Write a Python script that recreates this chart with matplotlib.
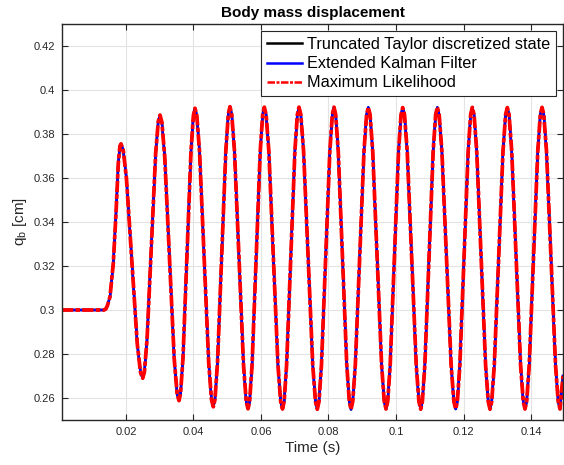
import matplotlib
matplotlib.use("Agg")
import matplotlib.pyplot as plt
from matplotlib.ticker import FormatStrFormatter

# time [s] and body mass displacement [cm]
time_s = [
    0.00104, 0.0080, 0.0135, 0.0140, 0.0145, 0.01526, 0.01624, 0.01704,
    0.01772, 0.0182, 0.01852,
    0.01916, 0.02013, 0.02174, 0.02334, 0.02431, 0.02495,
    0.02546, 0.02623, 0.02751, 0.02879, 0.02956, 0.03007,
    0.03063, 0.03148, 0.03289, 0.03429, 0.03514, 0.03570,
    0.03617, 0.03689, 0.03807, 0.03926, 0.03997, 0.04044,
    0.04098, 0.04180, 0.04316, 0.04451, 0.04533, 0.04587,
    0.04636, 0.04711, 0.04834, 0.04958, 0.05032, 0.05081,
    0.05134, 0.05215, 0.05348, 0.05482, 0.05562, 0.05615,
    0.05663, 0.05736, 0.05857, 0.05977, 0.06050, 0.06098,
    0.06152, 0.06233, 0.06368, 0.06502, 0.06583, 0.06637,
    0.06686, 0.06759, 0.06882, 0.07004, 0.07077, 0.07126,
    0.07180, 0.07262, 0.07397, 0.07533, 0.07614, 0.07668,
    0.07718, 0.07792, 0.07916, 0.08039, 0.08114, 0.08163,
    0.08213, 0.08289, 0.08415, 0.08541, 0.08617, 0.08667,
    0.08718, 0.08795, 0.08923, 0.09051, 0.09128, 0.09179,
    0.09232, 0.09310, 0.09442, 0.09573, 0.09652, 0.09704,
    0.09754, 0.09828, 0.09952, 0.10075, 0.10150, 0.10199,
    0.10252, 0.10332, 0.10466, 0.10599, 0.10679, 0.10732,
    0.10781, 0.10855, 0.10978, 0.11101, 0.11175, 0.11224,
    0.11279, 0.11360, 0.11497, 0.11633, 0.11714, 0.11769,
    0.11818, 0.11892, 0.12015, 0.12138, 0.12212, 0.12261,
    0.12313, 0.12392, 0.12523, 0.12654, 0.12733, 0.12785,
    0.12836, 0.12913, 0.13042, 0.13170, 0.13247, 0.13298,
    0.13350, 0.13429, 0.13560, 0.13691, 0.13770, 0.13822,
    0.13872, 0.13948, 0.14074, 0.14200, 0.14276, 0.14326,
    0.14379, 0.14459, 0.14593, 0.14726, 0.14806, 0.14859,
    0.14948,
]
q_state = [
    0.3000, 0.3000, 0.3000, 0.3004, 0.3020, 0.3060, 0.3212, 0.3440,
    0.3667, 0.3745, 0.3755,
    0.3729, 0.3599, 0.3223, 0.2846, 0.2716, 0.2690,
    0.2719, 0.2865, 0.3288, 0.3711, 0.3857, 0.3886,
    0.3854, 0.3696, 0.3237, 0.2778, 0.2620, 0.2588,
    0.2621, 0.2783, 0.3253, 0.3722, 0.3884, 0.3917,
    0.3884, 0.3718, 0.3239, 0.2759, 0.2593, 0.2560,
    0.2593, 0.2760, 0.3242, 0.3724, 0.3891, 0.3924,
    0.3888, 0.3721, 0.3236, 0.2751, 0.2584, 0.2551,
    0.2584, 0.2751, 0.3236, 0.3721, 0.3888, 0.3922,
    0.3888, 0.3721, 0.3236, 0.2751, 0.2584, 0.2550,
    0.2584, 0.2751, 0.3236, 0.3721, 0.3888, 0.3922,
    0.3888, 0.3721, 0.3236, 0.2751, 0.2584, 0.2549,
    0.2584, 0.2751, 0.3236, 0.3721, 0.3888, 0.3922,
    0.3888, 0.3721, 0.3236, 0.2751, 0.2584, 0.2548,
    0.2584, 0.2751, 0.3236, 0.3721, 0.3888, 0.3921,
    0.3888, 0.3721, 0.3236, 0.2751, 0.2584, 0.2550,
    0.2584, 0.2751, 0.3236, 0.3721, 0.3888, 0.3920,
    0.3888, 0.3721, 0.3236, 0.2751, 0.2584, 0.2549,
    0.2584, 0.2751, 0.3236, 0.3721, 0.3888, 0.3921,
    0.3888, 0.3721, 0.3236, 0.2751, 0.2584, 0.2550,
    0.2584, 0.2751, 0.3236, 0.3721, 0.3888, 0.3921,
    0.3888, 0.3721, 0.3236, 0.2751, 0.2584, 0.2549,
    0.2584, 0.2751, 0.3236, 0.3721, 0.3888, 0.3920,
    0.3888, 0.3721, 0.3236, 0.2751, 0.2584, 0.2550,
    0.2584, 0.2751, 0.3236, 0.3721, 0.3888, 0.3921,
    0.3888, 0.3721, 0.3236, 0.2751, 0.2584, 0.2550,
    0.2700,
]
# the filter estimates lie on top of the state in the figure
q_ekf = list(q_state)
q_ml = list(q_state)

x_ticks = [0.02, 0.04, 0.06, 0.08, 0.1, 0.12, 0.14]
y_ticks = [0.26, 0.28, 0.3, 0.32, 0.34, 0.36, 0.38, 0.4, 0.42]

if __name__ == "__main__":
    plt.rcParams['font.family'] = ['Liberation Sans', 'DejaVu Sans']
    plt.rcParams['mathtext.fontset'] = 'custom'
    plt.rcParams['mathtext.rm'] = 'Liberation Sans'
    dark = "#262626"

    fig = plt.figure(figsize=(5.64, 4.65), dpi=100)
    ax = fig.add_axes([62 / 564, 45 / 465, 501 / 564, 396 / 465])

    ax.plot(time_s, q_state, color="black", linewidth=1.8,
            label="Truncated Taylor discretized state")
    ax.plot(time_s, q_ekf, color="#0000ff", linewidth=1.8,
            label="Extended Kalman Filter")
    ax.plot(time_s, q_ml, color="#ff0000", linewidth=2.7,
            dashes=(3, 0.6, 1.2, 0.6), label="Maximum Likelihood")

    ax.set_xlim(0.00104, 0.14948)
    ax.set_ylim(0.25, 0.43)
    ax.set_xticks(x_ticks)
    ax.set_yticks(y_ticks)
    ax.xaxis.set_major_formatter(FormatStrFormatter('%g'))
    ax.yaxis.set_major_formatter(FormatStrFormatter('%g'))
    ax.tick_params(direction='in', length=4, width=0.8, top=True, right=True,
                   labelsize=8, colors=dark, pad=5)
    for sp in ax.spines.values():
        sp.set_color(dark)
        sp.set_linewidth(1.0)
    ax.grid(True, color="#e3e3e3", linewidth=0.8)
    ax.set_axisbelow(True)

    ax.set_title("Body mass displacement", fontsize=11, fontweight='bold',
                 pad=5)
    ax.set_xlabel("Time (s)", fontsize=11, color=dark, labelpad=3)
    ax.set_ylabel(r"q$_{\rm b}$ [cm]", fontsize=11, color=dark, labelpad=3)

    leg = ax.legend(loc="upper right", fontsize=11.7, fancybox=False,
                    edgecolor=dark, framealpha=1, borderaxespad=0.45,
                    handlelength=2.15, handletextpad=0.3, labelspacing=0.26,
                    borderpad=0.35)
    leg.get_frame().set_linewidth(0.8)
    for line in leg.get_lines():
        line.set_linewidth(1.8)

    plt.savefig("out.png", dpi=100)
